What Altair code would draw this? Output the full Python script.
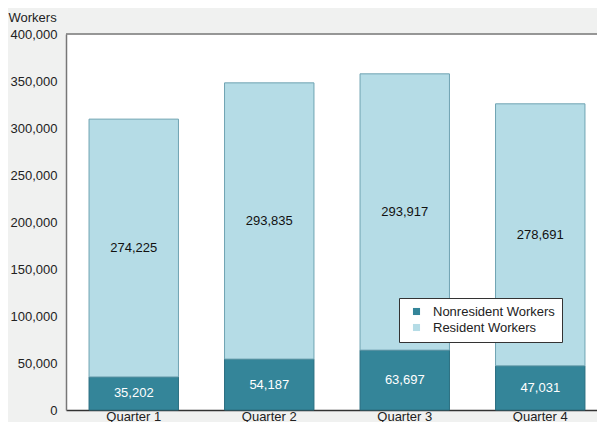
import altair as alt
import pandas as pd

quarters = ["Quarter 1", "Quarter 2", "Quarter 3", "Quarter 4"]
nonresident = [35202, 54187, 63697, 47031]
resident = [274225, 293835, 293917, 278691]
series = ["Nonresident Workers", "Resident Workers"]
colors = ["#348599", "#b5dce6"]
y_ticks = [0, 50000, 100000, 150000, 200000, 250000, 300000, 350000, 400000]
y_max = 400000

rows = []
for q, n, r in zip(quarters, nonresident, resident):
    rows.append({"quarter": q, "series": series[0], "value": n, "ord": 0})
    rows.append({"quarter": q, "series": series[1], "value": r, "ord": 1})
df = pd.DataFrame(rows)

FONT = "Arial, Liberation Sans, sans-serif"

base = alt.Chart(df).transform_stack(
    stack="value", groupby=["quarter"], as_=["y0", "y1"],
    sort=[alt.SortField("ord", order="ascending")]
).transform_calculate(mid="(datum.y0 + datum.y1) / 2")

x_scale = alt.Scale(range=[0, 542], paddingInner=0.34, paddingOuter=0.17)

x_enc = alt.X("quarter:N", sort=quarters, scale=x_scale,
              axis=alt.Axis(title=None, labelAngle=0, ticks=False, labelPadding=0,
                            labelFontSize=13, labelFont=FONT, labelColor="#222",
                            domainColor="#333", domainWidth=1.5))

bars = base.mark_bar(strokeWidth=1).encode(
    x=x_enc,
    y=alt.Y("y0:Q", scale=alt.Scale(domain=[0, y_max], nice=False),
            axis=alt.Axis(title="Workers", values=y_ticks, format=",d", grid=False,
                          ticks=False, labelPadding=9, labelFontSize=13, labelFont=FONT,
                          labelColor="#222", domainColor="#777", domainWidth=1.5,
                          titleAngle=0, titleAlign="left", titleBaseline="alphabetic",
                          titleX=-58, titleY=-13, titleFontSize=13,
                          titleFontWeight="normal", titleFont=FONT, titleColor="#222")),
    y2="y1:Q",
    color=alt.Color("series:N", scale=alt.Scale(domain=series, range=colors),
                    legend=alt.Legend(title=None, orient="none", legendX=333, legendY=264,
                                      symbolType="square", symbolSize=50,
                                      symbolStrokeWidth=0, labelFontSize=13,
                                      labelFont=FONT, labelColor="#222",
                                      fillColor="white", strokeColor="#333",
                                      padding=7, rowPadding=2, symbolOffset=4,
                                      labelOffset=10)),
    stroke=alt.Stroke("series:N", scale=alt.Scale(domain=series, range=["#2a6e80", "#6fa3b2"]),
                      legend=None),
    order=alt.Order("ord:Q"),
)

text = base.mark_text(fontSize=13, font=FONT).encode(
    x=alt.X("quarter:N", sort=quarters, scale=x_scale),
    y=alt.Y("mid:Q"),
    text=alt.Text("value:Q", format=",d"),
    color=alt.Color("series:N", scale=alt.Scale(domain=series, range=["white", "#111"]),
                    legend=None),
)

top_line = alt.Chart(pd.DataFrame({"y": [y_max]})).mark_rule(
    color="#777", strokeWidth=1.5
).encode(y=alt.Y("y:Q"))

chart = alt.layer(bars, text, top_line).resolve_scale(color="independent").properties(
    width=531, height=376,
    autosize=alt.AutoSizeParams(type="none"),
    padding={"left": 58, "top": 26, "right": 0, "bottom": 12},
    background="#f0f1f0",
).configure_view(stroke="transparent", fill="white")

chart.save("out.html", embed_options={"renderer": "svg", "actions": False})
